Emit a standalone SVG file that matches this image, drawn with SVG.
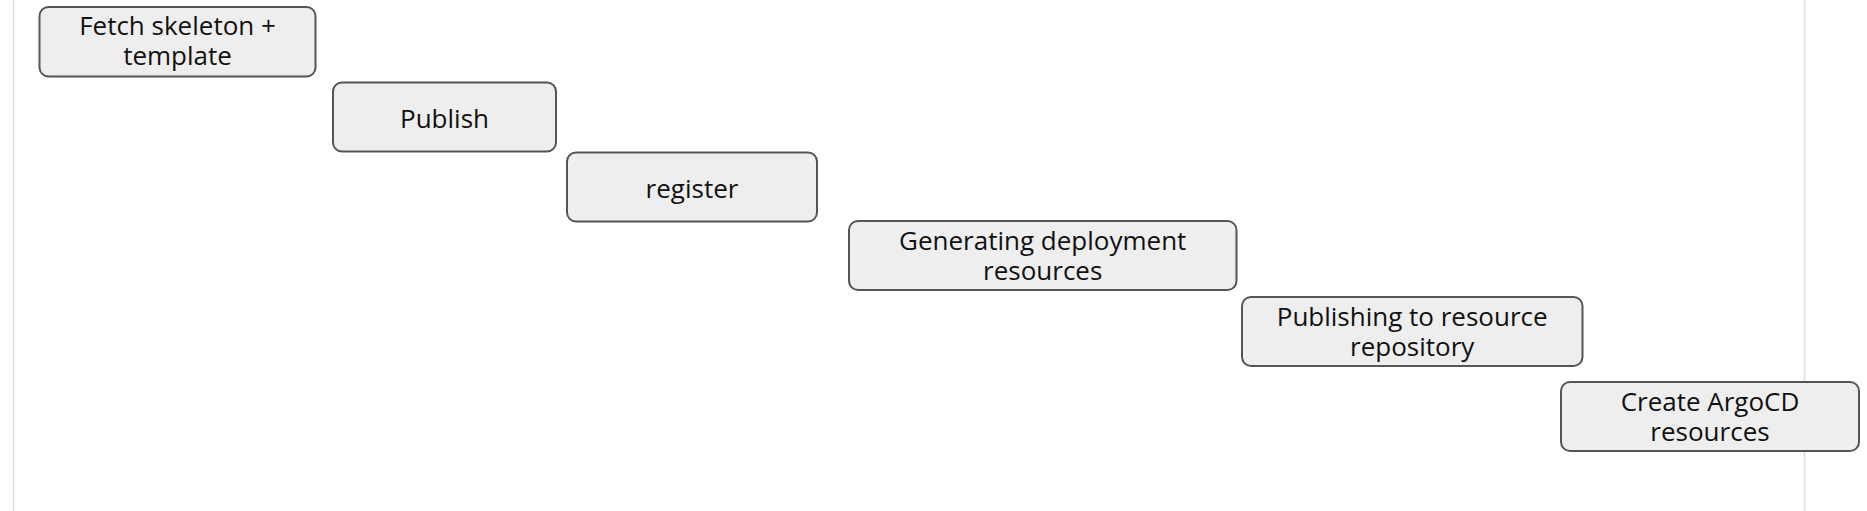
<svg xmlns="http://www.w3.org/2000/svg" width="1867" height="511" viewBox="0 0 1867 511">
<style>
.bg{fill:#ffffff}
.lane{stroke:#dddddd;stroke-width:1.5;fill:none}
.node rect{fill:#eeeeee;stroke:#555555;stroke-width:2}
.node text{font-family:"Open Sans","Liberation Sans",sans-serif;font-size:26px;fill:#111111;text-anchor:middle}
</style>
<rect class="bg" x="0" y="0" width="1867" height="511"/>
<g id="lanes">
<line class="lane" x1="13.5" y1="0" x2="13.5" y2="511"/>
<line class="lane" x1="1804.5" y1="0" x2="1804.5" y2="511"/>
</g>
<g id="connectors"></g>
<g id="n1" class="node">
<rect x="39.5" y="7" width="276" height="69.5" rx="9"/>
<text x="177.5" y="35">Fetch skeleton +</text>
<text x="177.5" y="64.5">template</text>
</g>
<g id="n2" class="node">
<rect x="333" y="82.5" width="223" height="69" rx="9"/>
<text x="444.5" y="127.5">Publish</text>
</g>
<g id="n3" class="node">
<rect x="567" y="152.5" width="250" height="69" rx="9"/>
<text x="692" y="197.5">register</text>
</g>
<g id="n4" class="node">
<rect x="849" y="221" width="387.5" height="69" rx="9"/>
<text x="1042.7" y="250">Generating deployment</text>
<text x="1042.7" y="280">resources</text>
</g>
<g id="n5" class="node">
<rect x="1242" y="297" width="340.5" height="69" rx="9"/>
<text x="1412.2" y="326">Publishing to resource</text>
<text x="1412.2" y="356">repository</text>
</g>
<g id="n6" class="node">
<rect x="1561" y="382" width="298" height="69" rx="9"/>
<text x="1710" y="411">Create ArgoCD</text>
<text x="1710" y="441">resources</text>
</g>
</svg>
